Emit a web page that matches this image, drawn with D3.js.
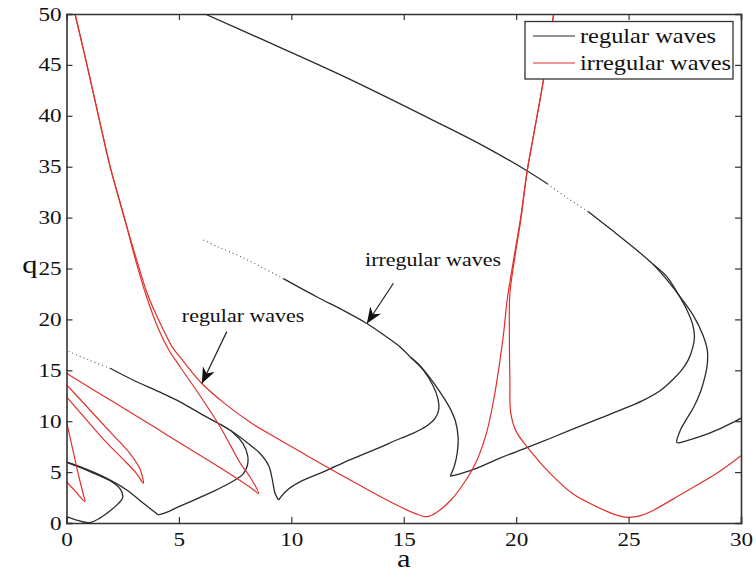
<!DOCTYPE html>
<html>
<head>
<meta charset="utf-8">
<script src="https://d3js.org/d3.v7.min.js"></script>
<style>
    body { margin: 0; background: #fff; }
    text { font-family: "Liberation Serif", "Times New Roman", serif; fill: #111; }
</style>
</head>
<body>
<div id="chart"></div>
<script>
// ticks
var xTicks = [0, 5, 10, 15, 20, 25, 30];
var yTicks = [0, 5, 10, 15, 20, 25, 30, 35, 40, 45, 50];
var seriesNames = ["regular waves", "irregular waves"];

// regular waves (black), each piece as [a, q]
var blackTop = [[6.16,50],[8.6,47.6],[12.4,43.8],[16.18,39.7],[18.5,37.1],[20.48,34.6],[21.4,33.3]];
var blackTopGap = [[21.4,33.3],[22.3,31.9],[23.2,30.6]];
var blackTopEnd = [[23.2,30.6],[24.3,28.7],[25.37,26.8],[26.1,25.4]];
var blackOuter4 = [[26.1,25.4],[26.7,23.9],[27.4,21.9],[27.9,20.3],[28.3,18.5],[28.5,17.0],[28.5,15.6],[28.4,14.4],[28.2,12.9],[27.9,11.4],[27.55,10.1],[27.3,9.1],[27.15,7.9],[27.6,8.1],[28.2,8.5],[29.0,9.2],[29.7,9.95],[30,10.3]];
var blackInner4 = [[26.1,25.4],[26.7,24.2],[27.2,22.5],[27.6,20.9],[27.85,19.5],[27.93,18.3],[27.85,17.2],[27.65,16.0],[27.35,15.0],[26.95,14.05],[26.4,13.0],[25.6,12.0],[24.93,11.35],[23.74,10.3],[22.6,9.3],[21.5,8.3],[20.48,7.4],[19.3,6.4],[18.26,5.4],[17.6,4.9],[17.07,4.6]];
var blackOuter3 = [[17.07,4.6],[17.25,5.6],[17.38,6.9],[17.42,8.4],[17.3,10.0],[17.0,11.5],[16.6,12.9],[16.15,14.3],[15.7,15.5],[15.29,16.3]];
var blackMidDots = [[6.09,27.8],[6.76,27.1],[7.72,26.2],[8.7,25.1],[9.65,24.0]];
var blackMid = [[9.65,24.0],[11.14,22.2],[12.3,20.9],[13.36,19.6],[14.1,18.5],[14.84,17.3],[15.29,16.3]];
var blackInner3 = [[15.29,16.3],[15.88,15.0],[16.3,13.5],[16.52,12.2],[16.56,11.2],[16.4,10.3],[16.0,9.5],[15.4,8.8],[14.84,8.3],[13.7,7.2],[12.6,6.2],[11.5,5.1],[10.4,4.06],[9.8,3.2],[9.43,2.26]];
var blackOuter2 = [[9.43,2.26],[9.28,2.9],[9.15,4.3],[9.0,5.6],[8.6,6.85],[8.17,7.66],[7.5,8.8],[6.83,9.7]];
var blackLowDots = [[0.1,16.85],[1.0,16.0],[1.94,15.2]];
var blackLow = [[1.94,15.2],[3.0,14.0],[4.16,12.85],[5.05,11.9],[6.0,10.7],[6.83,9.7]];
var blackInner2 = [[6.83,9.7],[7.4,8.9],[7.85,7.8],[8.06,6.6],[8.04,5.6],[7.85,4.8],[7.4,4.1],[6.53,3.1],[5.05,1.65],[4.5,1.1],[4.09,0.79]];
var blackLeft2 = [[4.09,0.79],[3.42,1.93],[2.68,3.24],[1.64,4.55],[0.6,5.53],[0,6.0]];
var blackLoop1 = [[0,0.62],[0.5,0.25],[1.0,0.03],[1.5,0.5],[1.94,1.2],[2.3,1.9],[2.5,2.5],[2.4,3.3],[1.94,4.15],[1.19,4.9],[0.6,5.45],[0,5.95]];

// irregular waves (red)
var redTongue1 = [[0,4.06],[0.4,3.1],[0.82,2.1],[0.75,2.8],[0.6,4.1],[0.4,6.0],[0.2,8.0],[0,9.95]];
var redTongue2 = [[0,13.6],[1.0,11.2],[2.0,8.8],[2.8,6.9],[3.25,5.4],[3.42,3.9],[3.1,4.9],[2.5,6.3],[1.7,8.1],[0.9,10.1],[0,12.4]];
var redTongue3 = [[0,14.7],[2.0,12.0],[4.0,9.3],[5.05,7.85],[6.5,5.9],[7.7,4.2],[8.3,3.3],[8.54,2.9],[8.2,4.4],[7.72,5.9],[7.3,7.6],[6.83,9.46],[6.0,12.3],[5.05,15.35],[4.55,17.0],[4.1,19.0],[3.55,22.3],[3.05,26.0],[2.6,29.8],[2.45,31.0],[1.94,35],[1.42,40],[0.91,45],[0.38,50]];
var redLeft = [[0.38,50],[0.91,45],[1.42,40],[1.94,35],[2.5,30.5],[3.1,26.0],[3.6,22.5],[4.15,19.7],[4.7,17.3],[5.05,16.3],[6.02,13.7],[7.0,11.8],[8.17,9.9],[9.3,8.4],[10.4,7.0],[11.5,5.6],[12.6,4.25],[13.7,2.9],[14.84,1.6],[15.5,0.95],[16.03,0.62],[16.5,1.1],[17.1,2.26],[17.7,4.0],[18.26,6.2],[18.7,9.0],[19.0,12.1],[19.25,15.5],[19.44,18.6],[19.6,21.9],[19.88,25.8],[20.2,30],[20.48,34.45],[20.85,39],[21.22,43.6],[21.45,47],[21.67,50]];
var redRight = [[21.67,50],[21.45,47],[21.22,43.6],[20.85,39],[20.48,34.45],[20.22,30],[19.92,25.8],[19.72,22.5],[19.7,18],[19.72,14],[19.76,10.8],[20.0,9.0],[20.48,7.5],[21.0,6.1],[21.5,4.9],[22.5,2.9],[23.74,1.44],[24.5,0.75],[25.0,0.56],[25.5,0.7],[25.97,1.1],[27.4,2.9],[28.94,4.9],[30,6.6]];

// annotations
var noteLabels = ["irregular waves", "regular waves"];
var noteTextPos = [[13.28, 25.2], [5.13, 19.78]];
var noteArrowFrom = [[14.54, 23.55], [7.13, 18.8]];
var noteArrowTo = [[13.36, 19.6], [6.02, 13.7]];

var svgWidth = 756;
var svgHeight = 580;
var margin = {top: 14, right: 15, bottom: 57, left: 66.5};
var chartWidth = svgWidth - margin.left - margin.right;
var chartHeight = svgHeight - margin.top - margin.bottom;
var stretch = 1.22;

var svg = d3.select("#chart")
            .append("svg")
            .attr("width", svgWidth)
            .attr("height", svgHeight);

var chartGroup = svg.append("g")
                    .attr("transform", `translate(${margin.left}, ${margin.top})`);

var xScale = d3.scaleLinear().domain([0, 30]).range([0, chartWidth]);
var yScale = d3.scaleLinear().domain([0, 50]).range([chartHeight, 0]);

var defs = svg.append("defs");
defs.append("clipPath")
    .attr("id", "plotClip")
    .append("rect")
    .attr("width", chartWidth)
    .attr("height", chartHeight);

defs.append("marker")
    .attr("id", "arrowHead")
    .attr("markerUnits", "userSpaceOnUse")
    .attr("viewBox", "0 0 16 13")
    .attr("refX", 16)
    .attr("refY", 6.5)
    .attr("markerWidth", 16)
    .attr("markerHeight", 13)
    .attr("orient", "auto")
    .append("path")
    .attr("d", "M0,0 L16,6.5 L0,13 L5,6.5 Z")
    .attr("fill", "#111");

var line = d3.line()
             .x(d => xScale(d[0]))
             .y(d => yScale(d[1]))
             .curve(d3.curveCatmullRom.alpha(0.5));

var plot = chartGroup.append("g").attr("clip-path", "url(#plotClip)");

var blackSolid = [blackTop, blackTopEnd, blackOuter4, blackInner4, blackOuter3, blackMid,
                  blackInner3, blackOuter2, blackLow, blackInner2, blackLeft2, blackLoop1];
var blackDotted = [blackTopGap, blackMidDots, blackLowDots];
var redSolid = [redTongue1, redTongue2, redTongue3, redLeft, redRight];

plot.selectAll(".black-line")
    .data(blackSolid)
    .enter()
    .append("path")
    .attr("class", "black-line")
    .attr("d", line)
    .attr("fill", "none")
    .attr("stroke", "#2b2b2b")
    .attr("stroke-width", 1.3);

plot.selectAll(".black-dots")
    .data(blackDotted)
    .enter()
    .append("path")
    .attr("class", "black-dots")
    .attr("d", line)
    .attr("fill", "none")
    .attr("stroke", "#555")
    .attr("stroke-width", 1.1)
    .attr("stroke-dasharray", "1,3");

plot.selectAll(".red-line")
    .data(redSolid)
    .enter()
    .append("path")
    .attr("class", "red-line")
    .attr("d", line)
    .attr("fill", "none")
    .attr("stroke", "#e0302c")
    .attr("stroke-width", 1.2);

// axes, MATLAB style box with inward ticks
var axisColor = "#333";
var xAxis = d3.axisBottom(xScale).tickValues(xTicks).tickSize(-6).tickPadding(10);
var yAxis = d3.axisLeft(yScale).tickValues(yTicks).tickSize(-6).tickPadding(4);
var xTop = d3.axisTop(xScale).tickValues(xTicks).tickSize(-6).tickFormat("");
var yRight = d3.axisRight(yScale).tickValues(yTicks).tickSize(-6).tickFormat("");

var gx = chartGroup.append("g")
                   .attr("transform", `translate(0, ${chartHeight})`)
                   .call(xAxis);
var gy = chartGroup.append("g").call(yAxis);
var gt = chartGroup.append("g").call(xTop);
var gr = chartGroup.append("g")
                   .attr("transform", `translate(${chartWidth}, 0)`)
                   .call(yRight);

[gx, gy, gt, gr].forEach(function(g) {
    g.select(".domain").attr("stroke", axisColor).attr("stroke-width", 1.6);
    g.selectAll(".tick line").attr("stroke", axisColor).attr("stroke-width", 1.2);
});
gt.selectAll(".tick").filter((d, i) => i === 0 || i === xTicks.length - 1).select("line").remove();
gr.selectAll(".tick").filter((d, i) => i === 0 || i === yTicks.length - 1).select("line").remove();

[gx, gy].forEach(function(g) {
    g.selectAll("text")
     .attr("font-size", 19)
     .attr("font-family", "Liberation Serif")
     .attr("fill", "#111")
     .attr("transform", `scale(${stretch},1)`);
});

// axis labels
chartGroup.append("text")
          .attr("x", xScale(15) / stretch)
          .attr("y", chartHeight + 44)
          .attr("transform", `scale(${stretch},1)`)
          .attr("text-anchor", "middle")
          .attr("font-size", 25)
          .text("a");
svg.append("text")
   .attr("x", 30 / stretch)
   .attr("y", margin.top + chartHeight / 2 + 5)
   .attr("transform", `scale(${stretch},1)`)
   .attr("text-anchor", "middle")
   .attr("font-size", 25)
   .text("q");

// annotations
noteLabels.forEach(function(label, i) {
    chartGroup.append("line")
              .attr("x1", xScale(noteArrowFrom[i][0]))
              .attr("y1", yScale(noteArrowFrom[i][1]))
              .attr("x2", xScale(noteArrowTo[i][0]))
              .attr("y2", yScale(noteArrowTo[i][1]))
              .attr("stroke", "#222")
              .attr("stroke-width", 1.2)
              .attr("marker-end", "url(#arrowHead)");
    chartGroup.append("text")
              .attr("x", xScale(noteTextPos[i][0]) / stretch)
              .attr("y", yScale(noteTextPos[i][1]))
              .attr("transform", `scale(${stretch},1)`)
              .attr("font-size", 18)
              .text(label);
});

// legend
var legend = svg.append("g").attr("transform", "translate(525, 21.5)");
legend.append("rect")
      .attr("width", 208)
      .attr("height", 57.5)
      .attr("fill", "#fff")
      .attr("stroke", "#333")
      .attr("stroke-width", 1.3);
var legendColors = ["#2b2b2b", "#e0302c"];
seriesNames.forEach(function(name, i) {
    legend.append("line")
          .attr("x1", 8).attr("x2", 50)
          .attr("y1", 14.5 + i * 27).attr("y2", 14.5 + i * 27)
          .attr("stroke", legendColors[i])
          .attr("stroke-width", 1.2);
    legend.append("text")
          .attr("x", 55 / stretch)
          .attr("y", 22 + i * 27)
          .attr("transform", `scale(${stretch},1)`)
          .attr("font-size", 20)
          .text(name);
});
</script>
</body>
</html>
